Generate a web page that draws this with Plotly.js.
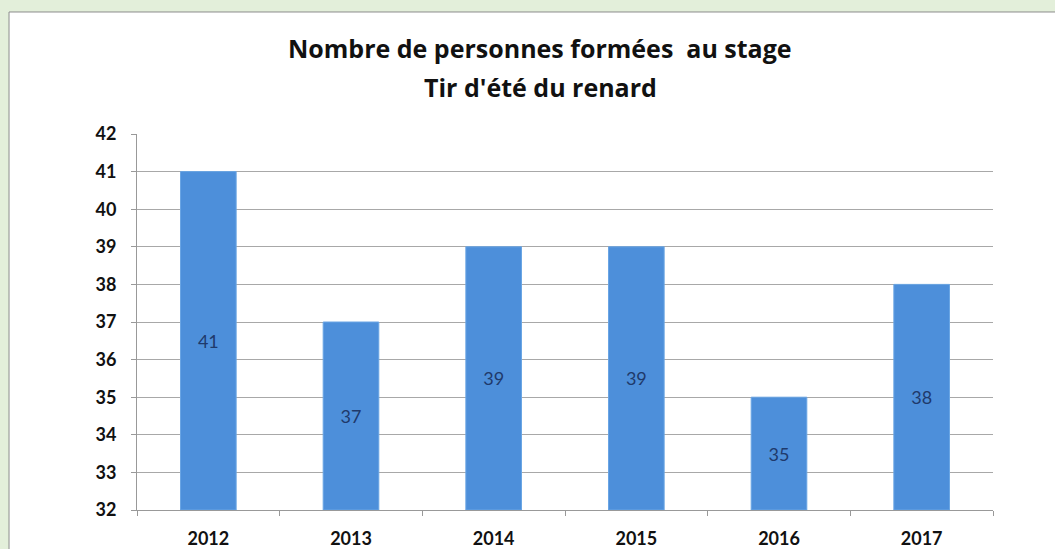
<!DOCTYPE html>
<html><head><meta charset="utf-8">
<script src="https://cdn.plot.ly/plotly-3.0.1.min.js"></script>
<style>html,body{margin:0;padding:0;background:#e3efda;}#chart{width:1055px;height:549px;}</style>
</head><body><div id="chart"></div>
<script>
const years = ["2012","2013","2014","2015","2016","2017"];
const trained = [41, 37, 39, 39, 35, 38];
const axisMin = 32;
const axisMax = 42;
const titleLines = ["Nombre de personnes formées  au stage", "Tir d'été du renard"];

const FONT = "Lato, 'Liberation Sans', sans-serif";

const trace = {
  type: "bar",
  x: years,
  base: axisMin,
  y: trained.map(v => v - axisMin),
  text: trained.map(String),
  textposition: "inside",
  insidetextanchor: "middle",
  textangle: 0,
  textfont: {family: FONT, size: 18, color: "#1f3a6b"},
  marker: {color: "#4d8fda", line: {color: "#6aa5e4", width: 1}},
  hoverinfo: "skip"
};

const layout = {
  width: 1055, height: 549,
  paper_bgcolor: "#e3efda",
  plot_bgcolor: "rgba(0,0,0,0)",
  margin: {l: 137, r: 62, t: 134, b: 39, pad: 0},
  showlegend: false,
  bargap: 0.61,
  xaxis: {
    type: "category",
    tickson: "boundaries",
    ticks: "outside", ticklen: 5, tickcolor: "#999",
    showline: true, linecolor: "#999", linewidth: 1,
    showgrid: false,
    tickfont: {family: FONT, size: 18, color: "#111", weight: "bold"},
    ticklabelstandoff: 12,
    fixedrange: true
  },
  yaxis: {
    range: [axisMin, axisMax],
    dtick: 1,
    showline: true, linecolor: "#999", linewidth: 1,
    ticks: "outside", ticklen: 5, tickcolor: "#999",
    showgrid: true, gridcolor: "#a8a8a8", gridwidth: 1,
    zeroline: false,
    tickfont: {family: FONT, size: 18, color: "#111", weight: "bold"},
    ticklabelstandoff: 11,
    fixedrange: true
  },
  annotations: [
    {text: "<b>" + titleLines[0] + "</b>", xref: "paper", yref: "paper",
     x: (540 - 137) / 856, y: (510 - 48) / 376, xanchor: "center", yanchor: "middle",
     showarrow: false, font: {family: "'Open Sans', sans-serif", size: 25, color: "#111"}},
    {text: "<b>" + titleLines[1] + "</b>", xref: "paper", yref: "paper",
     x: (540 - 137) / 856, y: (510 - 87) / 376, xanchor: "center", yanchor: "middle",
     showarrow: false, font: {family: "'Open Sans', sans-serif", size: 25, color: "#111"}}
  ],
  shapes: [{
    type: "rect", xref: "paper", yref: "paper",
    x0: -0.1495, x1: 1.2, y0: -0.5, y1: 1.3245,
    fillcolor: "#ffffff", line: {color: "#8c8c8c", width: 1}, layer: "below"
  }]
};

Plotly.newPlot("chart", [trace], layout, {displayModeBar: false, staticPlot: true});
</script></body></html>
